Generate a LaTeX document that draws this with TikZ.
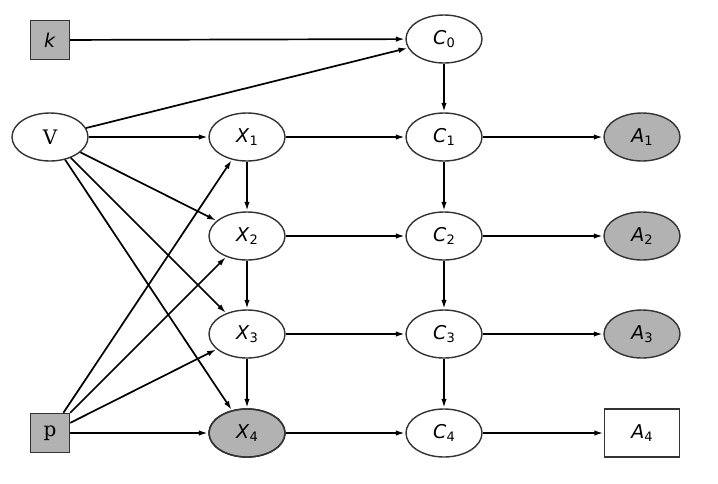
\documentclass[tikz,border=0pt]{standalone}
\usepackage{fontspec}
\setmainfont{DejaVu Sans}
\newfontfamily\serifv{DejaVu Serif}
\usetikzlibrary{shapes.geometric,arrows.meta}
\tikzset{
  ell/.style={ellipse,draw=black!80,line width=1.4pt,minimum width=76pt,minimum height=48pt,inner sep=0pt,font=\fontsize{19}{21}\selectfont},
  sqbox/.style={rectangle,draw=black!80,line width=1.4pt,minimum width=39pt,minimum height=39pt,inner sep=0pt,fill=gray!60,font=\fontsize{19}{21}\selectfont},
  obs/.style={fill=gray!60},
  edge/.style={line width=1.7pt,-{Latex[length=9pt,width=5.5pt]},shorten >=0.5pt},
}
\newcommand{\lbl}[2]{\textit{#1}\raisebox{-3pt}{\fontsize{13}{13}\selectfont #2}}
\begin{document}
\begin{tikzpicture}[x=1pt,y=-1pt]
\useasboundingbox (0,0) rectangle (718,483);
\node[sqbox] (k) at (50,40) {\textit{k}};
\node[ell,font=\serifv\fontsize{20}{22}\selectfont] (V) at (50,137) {V};
\node[sqbox,font=\serifv\fontsize{20}{22}\selectfont] (p) at (50,433) {p};
\node[ell] (C0) at (444,39) {\lbl{C}{0}};
\foreach \i/\y in {1/137,2/236,3/334,4/433}{
  \node[ell] (X\i) at (247,\y) {\lbl{X}{\i}};
  \node[ell] (C\i) at (444,\y) {\lbl{C}{\i}};
}
\node[ell,obs] at (X4) {};
\node[ell] (X4) at (247,433) {\lbl{X}{4}};
\foreach \i/\y in {1/137,2/236,3/334}{
  \node[ell,obs] (A\i) at (642,\y) {\lbl{A}{\i}};
}
\node[rectangle,draw=black!80,line width=1.4pt,minimum width=75pt,minimum height=48pt,inner sep=0pt,font=\fontsize{19}{21}\selectfont] (A4) at (642,433) {\lbl{A}{4}};
\draw[edge] (k) -- (C0);
\draw[edge] (V) -- (C0);
\foreach \i in {1,2,3,4}{
  \draw[edge] (V) -- (X\i);
  \draw[edge] (p) -- (X\i);
  \draw[edge] (X\i) -- (C\i);
  \draw[edge] (C\i) -- (A\i);
}
\draw[edge] (X1) -- (X2);
\draw[edge] (X2) -- (X3);
\draw[edge] (X3) -- (X4);
\draw[edge] (C0) -- (C1);
\draw[edge] (C1) -- (C2);
\draw[edge] (C2) -- (C3);
\draw[edge] (C3) -- (C4);
\end{tikzpicture}
\end{document}
